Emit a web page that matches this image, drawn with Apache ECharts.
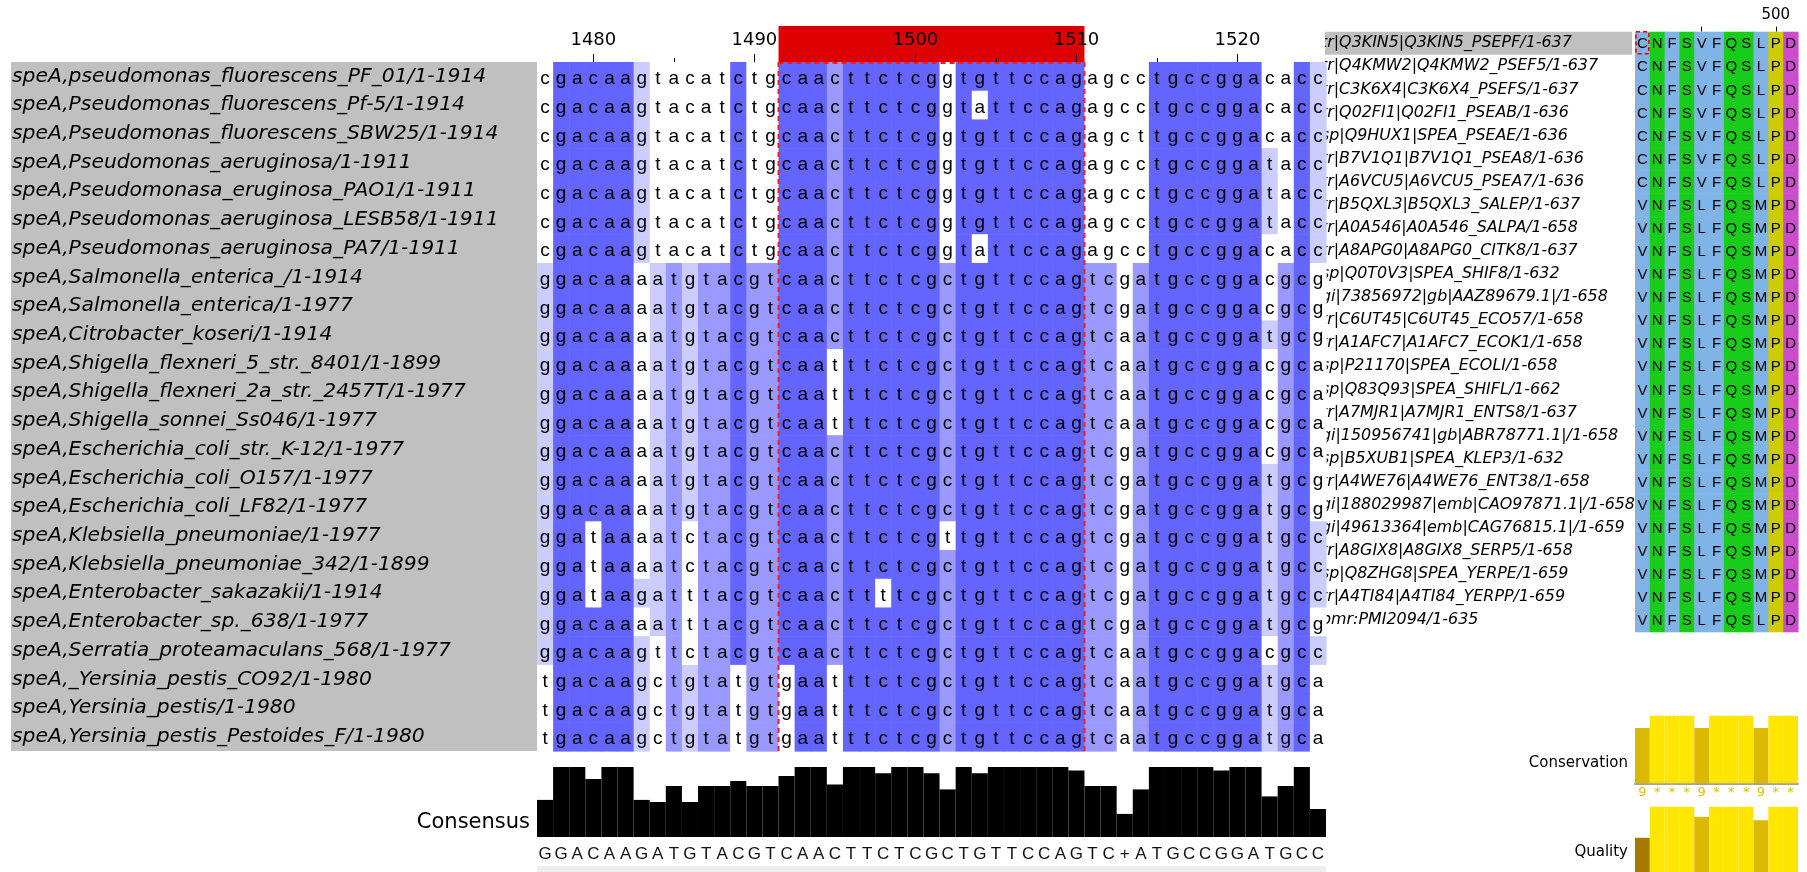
<!DOCTYPE html>
<html><head><meta charset="utf-8">
<script src="https://cdn.jsdelivr.net/npm/echarts@6.0.0/dist/echarts.min.js"></script>
<style>html,body{margin:0;padding:0;background:#fff}#c{width:1807px;height:872px}</style>
</head><body><div id="c"></div>
<script>
// ---------------- nucleotide alignment data ----------------
const ntPositions = [1477,1478,1479,1480,1481,1482,1483,1484,1485,1486,1487,1488,1489,1490,1491,1492,1493,1494,1495,1496,1497,1498,1499,1500,1501,1502,1503,1504,1505,1506,1507,1508,1509,1510,1511,1512,1513,1514,1515,1516,1517,1518,1519,1520,1521,1522,1523,1524,1525];
const ntNames = [
  'speA,pseudomonas_fluorescens_PF_01/1-1914',
  'speA,Pseudomonas_fluorescens_Pf-5/1-1914',
  'speA,Pseudomonas_fluorescens_SBW25/1-1914',
  'speA,Pseudomonas_aeruginosa/1-1911',
  'speA,Pseudomonasa_eruginosa_PAO1/1-1911',
  'speA,Pseudomonas_aeruginosa_LESB58/1-1911',
  'speA,Pseudomonas_aeruginosa_PA7/1-1911',
  'speA,Salmonella_enterica_/1-1914',
  'speA,Salmonella_enterica/1-1977',
  'speA,Citrobacter_koseri/1-1914',
  'speA,Shigella_flexneri_5_str._8401/1-1899',
  'speA,Shigella_flexneri_2a_str._2457T/1-1977',
  'speA,Shigella_sonnei_Ss046/1-1977',
  'speA,Escherichia_coli_str._K-12/1-1977',
  'speA,Escherichia_coli_O157/1-1977',
  'speA,Escherichia_coli_LF82/1-1977',
  'speA,Klebsiella_pneumoniae/1-1977',
  'speA,Klebsiella_pneumoniae_342/1-1899',
  'speA,Enterobacter_sakazakii/1-1914',
  'speA,Enterobacter_sp._638/1-1977',
  'speA,Serratia_proteamaculans_568/1-1977',
  'speA,_Yersinia_pestis_CO92/1-1980',
  'speA,Yersinia_pestis/1-1980',
  'speA,Yersinia_pestis_Pestoides_F/1-1980'
];
const ntSeqs = [
  'cgacaagtacatctgcaacttctcggtgttccagagcctgccggacacc',
  'cgacaagtacatctgcaacttctcggtattccagagcctgccggacacc',
  'cgacaagtacatctgcaacttctcggtgttccagagcttgccggacacc',
  'cgacaagtacatctgcaacttctcggtgttccagagcctgccggatacc',
  'cgacaagtacatctgcaacttctcggtgttccagagcctgccggatacc',
  'cgacaagtacatctgcaacttctcggtgttccagagcctgccggatacc',
  'cgacaagtacatctgcaacttctcggtattccagagcctgccggacacc',
  'ggacaaaatgtacgtcaacttctcgctgttccagtcgatgccggacgcg',
  'ggacaaaatgtacgtcaacttctcgctgttccagtcgatgccggacgcg',
  'ggacaaaatgtacgtcaacttctcgctgttccagtcaatgccggatgcg',
  'ggacaaaatgtacgtcaatttctcgctgttccagtcaatgccggacgca',
  'ggacaaaatgtacgtcaatttctcgctgttccagtcaatgccggacgca',
  'ggacaaaatgtacgtcaatttctcgctgttccagtcaatgccggacgca',
  'ggacaaaatgtacgtcaacttctcgctgttccagtcgatgccggacgca',
  'ggacaaaatgtacgtcaacttctcgctgttccagtcgatgccggatgcg',
  'ggacaaaatgtacgtcaacttctcgctgttccagtcgatgccggatgcg',
  'ggataaaatctacgtcaacttctcgttgttccagtcgatgccggatgcc',
  'ggataaaatctacgtcaacttctcgctgttccagtcgatgccggatgcc',
  'ggataagatttacgtcaacttttcgctgttccagtcgatgccggatgcc',
  'ggacaaaatttacgtcaacttctcgctgttccagtcgatgccggatgcg',
  'ggacaagttctacgtcaacttctcgctgttccagtcaatgccggacgcc',
  'tgacaagctgtatgtgaatttctcgctgttccagtcaatgccggatgca',
  'tgacaagctgtatgtgaatttctcgctgttccagtcaatgccggatgca',
  'tgacaagctgtatgtgaatttctcgctgttccagtcaatgccggatgca'
];
const ntConsensus = 'GGACAAGATGTACGTCAACTTCTCGCTGTTCCAGTC+ATGCCGGATGCC';
// percent-identity shading level per column (0 none, 1 >40%, 2 >60%, 3 >80%)
const ntIdentityLevel = [1,3,3,3,3,3,1,1,2,1, 2,2,3,2,2,3,3,3,2,3, 3,3,3,3,3,2,3,3,3,3, 3,3,3,3,2,2,0,2,3,3, 3,3,3,3,3,1,2,3,1];
// consensus histogram (percent)
const ntConsensusPct = [53,100,100,83,100,100,53,50,73,50, 73,73,80,73,73,87,100,100,75,100, 100,91,100,100,91,68,100,91,100,100, 100,100,100,95,73,73,33,68,100,100, 100,100,95,100,100,58,73,100,40];
const ntSelection = [1492, 1510];

// ---------------- protein alignment data ----------------
const protPositions = [491,492,493,494,495,496,497,498,499,500,501];
const protNames = [
  'tr|Q3KIN5|Q3KIN5_PSEPF/1-637',
  'tr|Q4KMW2|Q4KMW2_PSEF5/1-637',
  'tr|C3K6X4|C3K6X4_PSEFS/1-637',
  'tr|Q02FI1|Q02FI1_PSEAB/1-636',
  'sp|Q9HUX1|SPEA_PSEAE/1-636',
  'tr|B7V1Q1|B7V1Q1_PSEA8/1-636',
  'tr|A6VCU5|A6VCU5_PSEA7/1-636',
  'tr|B5QXL3|B5QXL3_SALEP/1-637',
  'tr|A0A546|A0A546_SALPA/1-658',
  'tr|A8APG0|A8APG0_CITK8/1-637',
  'sp|Q0T0V3|SPEA_SHIF8/1-632',
  'gi|73856972|gb|AAZ89679.1|/1-658',
  'tr|C6UT45|C6UT45_ECO57/1-658',
  'tr|A1AFC7|A1AFC7_ECOK1/1-658',
  'sp|P21170|SPEA_ECOLI/1-658',
  'sp|Q83Q93|SPEA_SHIFL/1-662',
  'tr|A7MJR1|A7MJR1_ENTS8/1-637',
  'gi|150956741|gb|ABR78771.1|/1-658',
  'sp|B5XUB1|SPEA_KLEP3/1-632',
  'tr|A4WE76|A4WE76_ENT38/1-658',
  'gi|188029987|emb|CAO97871.1|/1-658',
  'gi|49613364|emb|CAG76815.1|/1-659',
  'tr|A8GIX8|A8GIX8_SERP5/1-658',
  'sp|Q8ZHG8|SPEA_YERPE/1-659',
  'tr|A4TI84|A4TI84_YERPP/1-659',
  'pmr:PMI2094/1-635'
];
const protSeqs = [
  'CNFSVFQSLPD','CNFSVFQSLPD','CNFSVFQSLPD','CNFSVFQSLPD','CNFSVFQSLPD','CNFSVFQSLPD','CNFSVFQSLPD',
  'VNFSLFQSMPD','VNFSLFQSMPD','VNFSLFQSMPD','VNFSLFQSMPD','VNFSLFQSMPD','VNFSLFQSMPD','VNFSLFQSMPD',
  'VNFSLFQSMPD','VNFSLFQSMPD','VNFSLFQSMPD','VNFSLFQSMPD','VNFSLFQSMPD','VNFSLFQSMPD','VNFSLFQSMPD',
  'VNFSLFQSMPD','VNFSLFQSMPD','VNFSLFQSMPD','VNFSLFQSMPD','VNFSLFQSLPD'
];
const protColumnClass = ['blue','green','blue','green','blue','blue','green','green','blue','yellow','magenta'];
const protSelectedRow = 0;
const protSelectedCell = [0, 0];
const conservation = [9,11,11,11,9,11,11,11,9,11,11];
const conservationSymbols = ['9','*','*','*','9','*','*','*','9','*','*'];
const quality = [54,100,100,100,85,100,100,100,80,100,100];

// ---------------- styles ----------------
const pidColours = {1:'#ccccff', 2:'#9999ff', 3:'#6464ff'};
const clustalColours = {blue:'#80b3e6', green:'#1acc1a', yellow:'#cccc00', magenta:'#cc4dcc'};
function consColour(v){ return v >= 11 ? '#ffe600' : '#dcb900'; }
function qualColour(v){ return v >= 100 ? '#ffe600' : (v >= 75 ? '#dcb900' : '#a87800'); }

const ntCells = [];
ntSeqs.forEach((s, r) => { for (let c = 0; c < s.length; c++) ntCells.push([c, r]); });
const protCells = [];
protSeqs.forEach((s, r) => { for (let c = 0; c < s.length; c++) protCells.push([c, r]); });

function renderRuler(params, api){
  const a = api.coord([api.value(0), 1]);
  const b = api.coord([api.value(1), 0]);
  const bw = api.size([1, 0])[0];
  return {type:'rect', shape:{x:a[0]-bw/2, y:a[1], width:b[0]-a[0]+bw, height:b[1]-a[1]}, style:{fill:'#dd0000'}};
}
function renderNt(params, api){
  const c = api.value(0), r = api.value(1);
  const p = api.coord([c, r]);
  const s = api.size([1, 1]);
  const ch = ntSeqs[r][c];
  const lvl = ntIdentityLevel[c];
  const fill = (lvl > 0 && ch === ntConsensus[c].toLowerCase()) ? pidColours[lvl] : '#ffffff';
  return {type:'group', children:[
    {type:'rect', shape:{x:p[0]-s[0]/2, y:p[1]-s[1]/2, width:s[0]+0.6, height:s[1]+0.6}, style:{fill:fill}},
    {type:'text', style:{text:ch, x:p[0], y:p[1]+2.5, align:'center', verticalAlign:'middle', textAlign:'center', textVerticalAlign:'middle', fill:'#000', font:'19px "Liberation Sans"'}}
  ]};
}
function renderSel(params, api){
  const s = api.size([1, 1]);
  const a = api.coord([api.value(0), 0]);
  const b = api.coord([api.value(1), ntNames.length - 1]);
  const x0 = a[0]-s[0]/2, x1 = b[0]+s[0]/2, y0 = a[1]-s[1]/2, y1 = b[1]+s[1]/2;
  const st = {stroke:'#ff1a1a', lineWidth:2, lineDash:[5,4], fill:null};
  return {type:'group', children:[
    {type:'line', shape:{x1:x0, y1:y0, x2:x0, y2:y1}, style:st},
    {type:'line', shape:{x1:x1, y1:y0, x2:x1, y2:y1}, style:st},
    {type:'line', shape:{x1:x0, y1:y0+1, x2:x1, y2:y0+1}, style:st}
  ]};
}
function renderHighlight(params, api){
  const r = api.value(1);
  const p0 = api.coord([0, r]), p1 = api.coord([1, r]);
  const h = api.size([0, 1])[1];
  return {type:'rect', shape:{x:p0[0], y:p0[1]-h/2, width:p1[0]-p0[0], height:h}, style:{fill:'#c0c0c0'}};
}
function renderProt(params, api){
  const c = api.value(0), r = api.value(1);
  const p = api.coord([c, r]);
  const s = api.size([1, 1]);
  return {type:'group', children:[
    {type:'rect', shape:{x:p[0]-s[0]/2, y:p[1]-s[1]/2, width:s[0]+0.6, height:s[1]+0.6}, style:{fill:clustalColours[protColumnClass[c]]}},
    {type:'text', style:{text:protSeqs[r][c], x:p[0], y:p[1]+1, align:'center', verticalAlign:'middle', textAlign:'center', textVerticalAlign:'middle', fill:'#000', font:'15px "Liberation Sans"'}}
  ]};
}
function renderProtSel(params, api){
  const p = api.coord([api.value(0), api.value(1)]);
  const s = api.size([1, 1]);
  return {type:'rect', shape:{x:p[0]-s[0]/2+1, y:p[1]-s[1]/2, width:s[0]-2, height:s[1]-1}, style:{fill:null, stroke:'#e00000', lineWidth:1.5, lineDash:[4,3]}};
}

const gridBase = {containLabel:false, outerBoundsMode:'none'};
const grids = [
  {left:537, top:26, width:789, height:36},
  {left:11, top:62, width:526, height:689, show:true, backgroundColor:'#c0c0c0', borderWidth:0},
  {left:537, top:62, width:789, height:689},
  {left:537, top:767, width:789, height:70},
  {left:1321, top:31.7, width:311, height:600},
  {left:1635, top:31.7, width:163, height:600},
  {left:1635, top:715.7, width:163, height:67.6},
  {left:1635, top:806.7, width:163, height:67.6}
].map(g => Object.assign({}, gridBase, g));

const ntSelIdx = [ntPositions.indexOf(ntSelection[0]), ntPositions.indexOf(ntSelection[1])];

const option = {
  animation: false,
  backgroundColor: '#ffffff',
  grid: grids,
  xAxis: [
    {gridIndex:0, type:'category', data:ntPositions, position:'bottom', z:10,
      axisLine:{show:false, onZero:false},
      axisTick:{show:true, inside:true, length:8, alignWithLabel:true, interval:(i,v)=>Number(v)%10===0, lineStyle:{color:'#000', width:1}},
      axisLabel:{show:true, inside:true, margin:13, interval:(i,v)=>Number(v)%10===0, color:'#000', fontFamily:'DejaVu Sans', fontSize:18},
      splitLine:{show:false}},
    {gridIndex:0, type:'category', data:ntPositions, position:'bottom', z:10,
      axisLine:{show:false, onZero:false},
      axisTick:{show:true, inside:true, length:4, alignWithLabel:true, interval:(i,v)=>Number(v)%5===0 && Number(v)%10!==0, lineStyle:{color:'#000', width:1}},
      axisLabel:{show:false}, splitLine:{show:false}},
    {gridIndex:1, type:'value', show:false, min:0, max:1},
    {gridIndex:2, type:'category', data:ntPositions, show:false},
    {gridIndex:3, type:'category', data:ntPositions,
      axisLine:{show:false}, axisTick:{show:false}, splitLine:{show:false},
      axisLabel:{interval:0, margin:9, formatter:(v,i)=>ntConsensus[i], color:'#111', fontFamily:'Liberation Sans', fontSize:17}},
    {gridIndex:4, type:'value', show:false, min:0, max:1},
    {gridIndex:5, type:'category', data:protPositions, position:'top',
      axisLine:{show:false, onZero:false},
      axisTick:{show:true, length:5, alignWithLabel:true, interval:(i,v)=>Number(v)%5===0, lineStyle:{color:'#000'}},
      axisLabel:{margin:9, interval:(i,v)=>Number(v)%10===0, color:'#000', fontFamily:'DejaVu Sans', fontSize:15},
      splitLine:{show:false}},
    {gridIndex:6, type:'category', data:protPositions,
      axisLine:{show:true, onZero:false, lineStyle:{color:'#a0a0a0', width:2}},
      axisTick:{show:false}, splitLine:{show:false},
      axisLabel:{interval:0, margin:3, formatter:(v,i)=>conservationSymbols[i], color:'#e2c000', fontFamily:'DejaVu Sans', fontSize:13}},
    {gridIndex:7, type:'category', data:protPositions, show:false}
  ],
  yAxis: [
    {gridIndex:0, type:'value', show:false, min:0, max:1},
    {gridIndex:1, type:'category', data:ntNames, inverse:true, z:3,
      axisLine:{show:false}, axisTick:{show:false}, splitLine:{show:false},
      axisLabel:{inside:true, interval:0, margin:1, color:'#000', fontFamily:'DejaVu Sans', fontStyle:'italic', fontSize:20.3, padding:[8,0,0,0]}},
    {gridIndex:2, type:'category', data:ntNames, inverse:true, show:false},
    {gridIndex:3, type:'value', show:false, min:0, max:100},
    {gridIndex:4, type:'category', data:protNames, inverse:true, z:3,
      axisLine:{show:false}, axisTick:{show:false}, splitLine:{show:false},
      axisLabel:{inside:true, interval:0, margin:0, color:'#000', fontFamily:'DejaVu Sans', fontStyle:'italic', fontSize:15.9, padding:[3,0,0,0]}},
    {gridIndex:5, type:'category', data:protNames, inverse:true, show:false},
    {gridIndex:6, type:'value', show:false, min:0, max:11},
    {gridIndex:7, type:'value', show:false, min:0, max:100}
  ],
  series: [
    {type:'custom', name:'selection', xAxisIndex:0, yAxisIndex:0, data:[ntSelIdx], renderItem:renderRuler, z:2, silent:true},
    {type:'custom', name:'alignment', xAxisIndex:3, yAxisIndex:2, data:ntCells, renderItem:renderNt, z:5, silent:true},
    {type:'custom', name:'selectionBox', xAxisIndex:3, yAxisIndex:2, data:[ntSelIdx], renderItem:renderSel, z:6, silent:true},
    {type:'bar', name:'Consensus', xAxisIndex:4, yAxisIndex:3, data:ntConsensusPct, barCategoryGap:'0%', itemStyle:{color:'#000'}, silent:true},
    {type:'custom', name:'protHighlight', xAxisIndex:5, yAxisIndex:4, data:[[0, protSelectedRow]], renderItem:renderHighlight, z:1, silent:true},
    {type:'custom', name:'protein', xAxisIndex:6, yAxisIndex:5, data:protCells, renderItem:renderProt, z:4, silent:true},
    {type:'custom', name:'protSel', xAxisIndex:6, yAxisIndex:5, data:[protSelectedCell], renderItem:renderProtSel, z:6, silent:true},
    {type:'bar', name:'Conservation', xAxisIndex:7, yAxisIndex:6, barCategoryGap:'0%', silent:true,
      data:conservation.map(v => ({value:v, itemStyle:{color:consColour(v)}}))},
    {type:'bar', name:'Quality', xAxisIndex:8, yAxisIndex:7, barCategoryGap:'0%', silent:true,
      data:quality.map(v => ({value:v, itemStyle:{color:qualColour(v)}}))}
  ],
  graphic: [
    {type:'rect', shape:{x:537, y:866, width:789, height:6}, style:{fill:'#ededed'}, z:0, silent:true},
    {type:'rect', shape:{x:1290, y:0, width:35, height:62}, style:{fill:'#ffffff'}, z:100, silent:true},
    {type:'text', x:530, y:823, z:10, style:{text:'Consensus', fill:'#000', font:'21px "DejaVu Sans"', textAlign:'right', textVerticalAlign:'middle', align:'right', verticalAlign:'middle'}},
    {type:'text', x:1628, y:763, z:10, style:{text:'Conservation', fill:'#000', font:'15px "DejaVu Sans"', textAlign:'right', textVerticalAlign:'middle', align:'right', verticalAlign:'middle'}},
    {type:'text', x:1628, y:852, z:10, style:{text:'Quality', fill:'#000', font:'15px "DejaVu Sans"', textAlign:'right', textVerticalAlign:'middle', align:'right', verticalAlign:'middle'}}
  ]
};
const chart = echarts.init(document.getElementById('c'), null, {renderer:'canvas', width:1807, height:872});
chart.setOption(option);
</script>
</body></html>
